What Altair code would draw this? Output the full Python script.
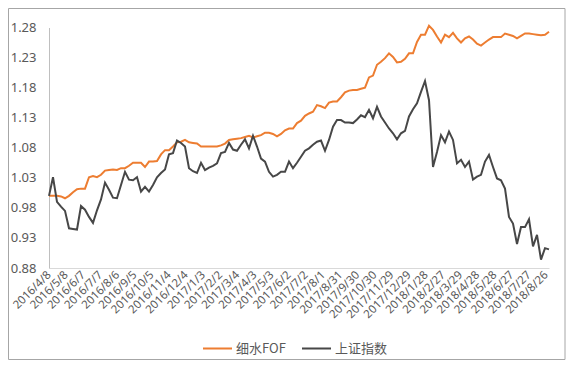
import altair as alt
import pandas as pd

start_date = "2016-04-08"
weeks = list(range(126))

fof = [1.000, 1.000, 1.000, 0.999, 0.996, 1.000, 1.006, 1.011, 1.012, 1.012,
       1.031, 1.033, 1.031, 1.035, 1.042, 1.043, 1.044, 1.043, 1.046, 1.046,
       1.050, 1.055, 1.055, 1.055, 1.048, 1.057, 1.057, 1.058, 1.069, 1.076,
       1.076, 1.082, 1.089, 1.090, 1.093, 1.089, 1.088, 1.087, 1.082, 1.082,
       1.082, 1.082, 1.082, 1.084, 1.087, 1.093, 1.094, 1.095, 1.096, 1.098,
       1.100, 1.097, 1.099, 1.101, 1.105, 1.105, 1.103, 1.099, 1.103, 1.109,
       1.112, 1.112, 1.121, 1.125, 1.133, 1.137, 1.140, 1.151, 1.149, 1.146,
       1.155, 1.157, 1.157, 1.164, 1.172, 1.175, 1.176, 1.176, 1.178, 1.180,
       1.197, 1.200, 1.218, 1.223, 1.229, 1.237, 1.231, 1.222, 1.223, 1.228,
       1.237, 1.237, 1.256, 1.268, 1.268, 1.283, 1.276, 1.265, 1.255, 1.268,
       1.264, 1.271, 1.262, 1.255, 1.262, 1.265, 1.260, 1.253, 1.250, 1.255,
       1.260, 1.264, 1.264, 1.264, 1.270, 1.268, 1.266, 1.262, 1.266, 1.270,
       1.270, 1.269, 1.268, 1.267, 1.268, 1.273]

sh = [1.000, 1.031, 0.990, 0.982, 0.975, 0.946, 0.945, 0.944, 0.983, 0.977,
      0.965, 0.955, 0.976, 0.994, 1.022, 1.010, 0.997, 0.996, 1.018, 1.040,
      1.027, 1.026, 1.031, 1.007, 1.015, 1.007, 1.018, 1.031, 1.038, 1.044,
      1.069, 1.071, 1.092, 1.088, 1.082, 1.046, 1.041, 1.038, 1.055, 1.043,
      1.047, 1.050, 1.054, 1.071, 1.073, 1.088, 1.077, 1.075, 1.085, 1.094,
      1.079, 1.100, 1.082, 1.062, 1.057, 1.040, 1.032, 1.035, 1.040, 1.040,
      1.057, 1.046, 1.055, 1.065, 1.075, 1.079, 1.085, 1.090, 1.092, 1.075,
      1.093, 1.115, 1.126, 1.126, 1.122, 1.122, 1.121, 1.127, 1.134, 1.131,
      1.143, 1.129, 1.148, 1.132, 1.122, 1.112, 1.104, 1.094, 1.104, 1.108,
      1.132, 1.144, 1.154, 1.173, 1.191, 1.159, 1.048, 1.073, 1.101, 1.089,
      1.107, 1.093, 1.054, 1.060, 1.048, 1.057, 1.027, 1.032, 1.035, 1.057,
      1.068, 1.048, 1.029, 1.026, 1.012, 0.965, 0.954, 0.920, 0.948, 0.948,
      0.961, 0.916, 0.935, 0.894, 0.913, 0.911]

series_names = ["细水FOF", "上证指数"]
series_colors = ["#ED7D31", "#474747"]

tick_dates = ["2016-04-08", "2016-05-08", "2016-06-07", "2016-07-07", "2016-08-06",
              "2016-09-05", "2016-10-05", "2016-11-04", "2016-12-04", "2017-01-03",
              "2017-02-02", "2017-03-04", "2017-04-03", "2017-05-03", "2017-06-02",
              "2017-07-02", "2017-08-01", "2017-08-31", "2017-09-30", "2017-10-30",
              "2017-11-29", "2017-12-29", "2018-01-28", "2018-02-27", "2018-03-29",
              "2018-04-28", "2018-05-28", "2018-06-27", "2018-07-27", "2018-08-26"]
y_ticks = [0.88, 0.93, 0.98, 1.03, 1.08, 1.13, 1.18, 1.23, 1.28]

dates = pd.to_datetime(start_date) + pd.to_timedelta([7 * w for w in weeks], unit="D")
date_str = [d.strftime("%Y-%m-%d") for d in dates]

df = pd.concat([
    pd.DataFrame({"date": date_str, "value": fof, "series": series_names[0]}),
    pd.DataFrame({"date": date_str, "value": sh, "series": series_names[1]}),
])


def dt(s):
    y, m, d = (int(p) for p in s.split("-"))
    return alt.DateTime(year=y, month=m, date=d, utc=True)


x_enc = alt.X(
    "date:T",
    scale=alt.Scale(type="utc", domain=[dt(start_date), dt(date_str[-1])], nice=False),
    axis=alt.Axis(
        title=None, values=[dt(s) for s in tick_dates],
        labelExpr="utcFormat(datum.value, '%Y/%-m/%-d')",
        labelAngle=-45, labelAlign="right", labelBaseline="middle",
        labelFont="Noto Sans", labelFontSize=11.5, labelColor="#595959",
        labelPadding=5, ticks=False, tickSize=0, grid=False,
        domainColor="#d9d9d9", domainWidth=1, labelOverlap=False, labelBound=False,
        labelFlush=False,
    ),
)

y_enc = alt.Y(
    "value:Q",
    scale=alt.Scale(domain=[0.88, 1.28], nice=False, zero=False),
    axis=alt.Axis(
        title=None, values=y_ticks, format=".2f", labelFont="Noto Sans",
        labelFontSize=13, labelColor="#595959", labelPadding=13, ticks=False,
        tickSize=0, grid=False, domainColor="#bfbfbf", domainWidth=1,
    ),
)

lines = alt.Chart(df).mark_line(strokeWidth=2).encode(
    x=x_enc,
    y=y_enc,
    color=alt.Color(
        "series:N",
        scale=alt.Scale(domain=series_names, range=series_colors),
        legend=alt.Legend(
            title=None, orient="none", legendX=153, legendY=315, direction="horizontal",
            symbolType="stroke", symbolSize=841, symbolStrokeWidth=2, clipHeight=12,
            labelFont="Noto Sans CJK SC", labelFontSize=13, labelColor="#595959",
            labelOffset=3, columnPadding=15,
        ),
    ),
    order=alt.Order("series:N"),
)

border = alt.Chart(pd.DataFrame({"a": [0]})).mark_rect(
    fill=None, stroke="#a6a6a6", strokeWidth=1
).encode(
    x=alt.value(-40.5), y=alt.value(-19), x2=alt.value(516), y2=alt.value(332)
)

chart = alt.layer(border, lines).properties(
    width=500, height=240.5,
    padding={"left": 41, "top": 19.5, "right": 17, "bottom": 93},
    autosize=alt.AutoSizeParams(type="none"),
).configure_view(stroke=None)

chart.save("out.html", embed_options={"renderer": "svg", "actions": False})
